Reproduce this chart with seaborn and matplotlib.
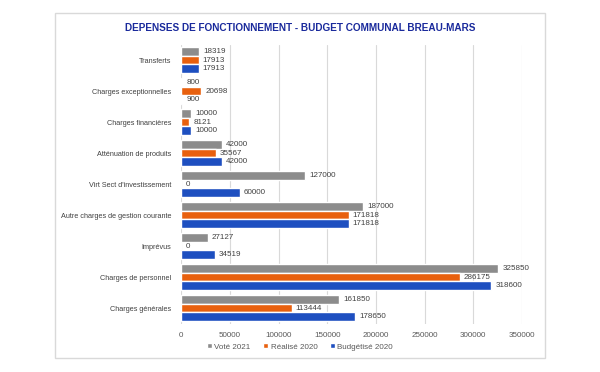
import seaborn as sns
import pandas as pd
import matplotlib.pyplot as plt
from matplotlib.patches import Rectangle

categories = ['Transferts', 'Charges exceptionnelles', 'Charges financières',
              'Atténuation de produits', "Virt Sect d'investissement",
              'Autre charges de gestion courante', 'Imprévus',
              'Charges de personnel', 'Charges générales']
vote_2021 = [18319, 800, 10000, 42000, 127000, 187000, 27127, 325850, 161850]
realise_2020 = [17913, 20698, 8121, 35567, 0, 171818, 0, 286175, 113444]
budgetise_2020 = [17913, 900, 10000, 42000, 60000, 171818, 34519, 318600, 178650]
series_names = ['Voté 2021', 'Réalisé 2020', 'Budgétisé 2020']
x_ticks = [0, 50000, 100000, 150000, 200000, 250000, 300000, 350000]

rows = []
for name, vals in zip(series_names, [vote_2021, realise_2020, budgetise_2020]):
    for cat, v in zip(categories, vals):
        rows.append({'cat': cat, 'serie': name, 'val': v})
df = pd.DataFrame(rows)

sns.set_theme(style='white')
plt.rcParams['font.family'] = ['Liberation Sans', 'DejaVu Sans']

fig = plt.figure(figsize=(6, 3.72), dpi=100)
ax = fig.add_axes([0.302, 0.130, 0.568, 0.750])

colors = ['#8c8c8c', '#e8600e', '#1e4fc0']
sns.barplot(data=df, y='cat', x='val', hue='serie', order=categories,
            hue_order=series_names, palette=colors, orient='h', width=0.82,
            saturation=1, ax=ax, legend=True)

for cont in ax.containers:
    ax.bar_label(cont, fmt='%d', padding=3, fontsize=5.8, color='#404040')

ax.set_xlim(0, 350000)
ax.set_xticks(x_ticks)
ax.set_xticklabels([str(t) for t in x_ticks], fontsize=5.8, color='#595959')
ax.tick_params(axis='y', labelsize=5.2, labelcolor='#404040', length=0, pad=7)
ax.tick_params(axis='x', length=0, pad=6)
ax.set_xlabel('')
ax.set_ylabel('')
ax.grid(axis='x', color='#d9d9d9', linewidth=0.8)
ax.set_axisbelow(True)
for s in ax.spines.values():
    s.set_visible(False)

handles, labels = ax.get_legend_handles_labels()
ax.get_legend().remove()
fig.legend(handles, labels, loc='center', bbox_to_anchor=(0.5, 1 - 347 / 372), ncol=3,
           frameon=False, fontsize=5.8, labelcolor='#595959', handlelength=0.6,
           handleheight=0.6, handletextpad=0.3, columnspacing=1.6)

fig.text(0.5, 1 - 28 / 372, 'DEPENSES DE FONCTIONNEMENT - BUDGET COMMUNAL BREAU-MARS',
         ha='center', va='center', fontsize=7.2, fontweight='bold', color='#1a2a9c')

fig.patches.append(Rectangle((55 / 600, 1 - 358 / 372), 490 / 600, 345 / 372,
                             transform=fig.transFigure, fill=False,
                             edgecolor='#d9d9d9', linewidth=1))

fig.savefig('out.png', dpi=100)
